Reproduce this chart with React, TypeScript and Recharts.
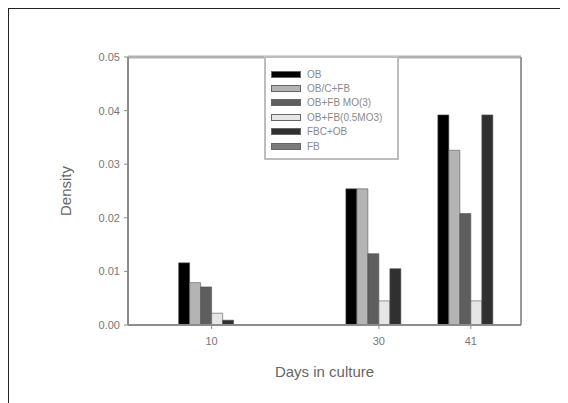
import React from 'react';
import {
  BarChart,
  Bar,
  XAxis,
  YAxis,
  ReferenceLine,
} from 'recharts';

// days in culture and mineral density per culture condition
const days = [10, 30, 41];
const ob = [0.0116, 0.0254, 0.0392];
const obcFb = [0.0079, 0.0254, 0.0326];
const obFbMo3 = [0.0071, 0.0133, 0.0208];
const obFb05Mo3 = [0.0022, 0.0045, 0.0045];
const fbcOb = [0.0009, 0.0105, 0.0392];
const fb = [0, 0, 0];
const yTicks = [0, 0.01, 0.02, 0.03, 0.04, 0.05];

const series = [
  { key: 'ob', name: 'OB', values: ob, fill: '#000000' },
  { key: 'obcFb', name: 'OB/C+FB', values: obcFb, fill: '#b4b4b4' },
  { key: 'obFbMo3', name: 'OB+FB MO(3)', values: obFbMo3, fill: '#5e5e5e' },
  { key: 'obFb05Mo3', name: 'OB+FB(0.5MO3)', values: obFb05Mo3, fill: '#e6e6e6' },
  { key: 'fbcOb', name: 'FBC+OB', values: fbcOb, fill: '#303030' },
  { key: 'fb', name: 'FB', values: fb, fill: '#7a7a7a' },
];

const data = days.map((d, i) => {
  const row: Record<string, number> = { day: d };
  series.forEach((s) => {
    row[s.key] = s.values[i];
  });
  return row;
});

const font = '"Liberation Sans", Arial, sans-serif';

const LegendBox = () => (
  <div
    style={{
      position: 'absolute',
      left: 255,
      top: 47,
      border: '2px solid #bdbdbd',
      width: 135,
      height: 104,
      boxSizing: 'border-box',
      paddingTop: 9,
      paddingLeft: 5,
      background: '#fff',
    }}
  >
    {series.map((s) => (
      <div
        key={s.key}
        style={{ display: 'flex', alignItems: 'center', height: 14.4 }}
      >
        <div
          style={{
            width: 30,
            height: 7,
            background: s.fill,
            border: '1px solid #666',
            boxSizing: 'border-box',
          }}
        />
        <span
          style={{
            marginLeft: 6,
            fontSize: 10,
            color: '#8a8a8a',
            fontFamily: font,
            whiteSpace: 'nowrap',
          }}
        >
          {s.name}
        </span>
      </div>
    ))}
  </div>
);

export default function App() {
  return (
    <div
      style={{
        position: 'relative',
        width: 560,
        height: 395,
        border: '1px solid #222',
        borderBottom: 'none',
        boxSizing: 'border-box',
      }}
    >
      <BarChart
        width={558}
        height={394}
        data={data}
        barGap={0}
        barSize={11}
        margin={{ top: 48, right: 46, left: 59, bottom: 24 }}
      >
        <XAxis
          dataKey="day"
          type="number"
          domain={[0, 47]}
          ticks={days}
          axisLine={{ stroke: '#8c8c8c', strokeWidth: 2 }}
          tickLine={{ stroke: '#8c8c8c' }}
          tickSize={4}
          tickMargin={8}
          tick={{ fill: '#777', fontSize: 11, fontFamily: font }}
          height={54}
          label={{
            value: 'Days in culture',
            position: 'insideBottom',
            offset: 2,
            fill: '#666',
            fontSize: 15,
            fontFamily: font,
          }}
        />
        <YAxis
          domain={[0, 0.05]}
          ticks={yTicks}
          tickFormatter={(v: number) => v.toFixed(2)}
          axisLine={{ stroke: '#8c8c8c', strokeWidth: 2 }}
          tickLine={{ stroke: '#8c8c8c' }}
          tickSize={4}
          tickMargin={4}
          tick={{ fill: '#777', fontSize: 11, fontFamily: font }}
          width={60}
          label={{
            value: 'Density',
            angle: -90,
            position: 'insideLeft',
            offset: -2,
            fill: '#666',
            fontSize: 15,
            fontFamily: font,
            style: { textAnchor: 'middle' },
          }}
        />
        <ReferenceLine y={0.05} stroke="#b0b0b0" strokeWidth={3} />
        <ReferenceLine x={47} stroke="#9a9a9a" strokeWidth={2} />
        {series.map((s) => (
          <Bar
            key={s.key}
            dataKey={s.key}
            name={s.name}
            fill={s.fill}
            stroke="#555"
            strokeWidth={0.6}
            isAnimationActive={false}
          />
        ))}
      </BarChart>
      <LegendBox />
    </div>
  );
}
